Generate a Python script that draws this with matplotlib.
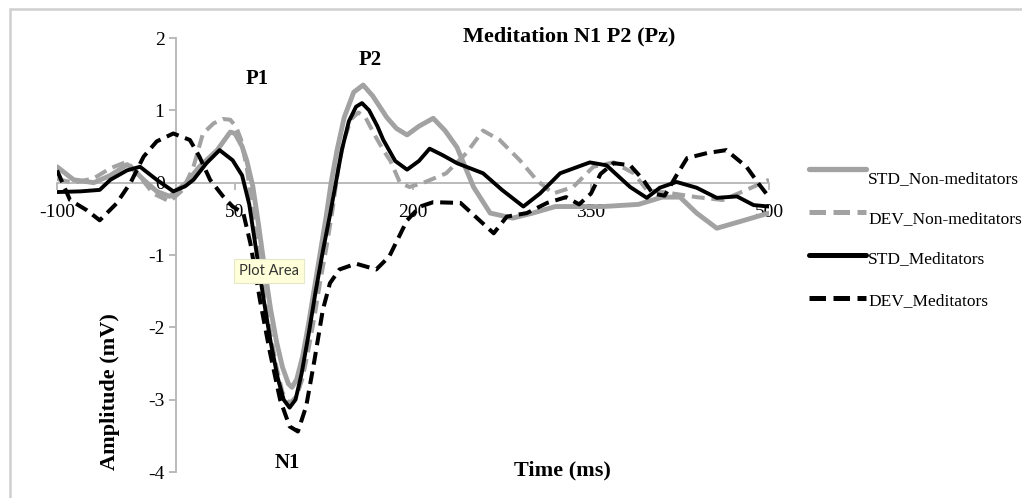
import matplotlib
matplotlib.use("Agg")
import matplotlib.pyplot as plt
from matplotlib.lines import Line2D
from matplotlib.patches import Rectangle

# ---------------- data ----------------
t_std_non = [-100, -86, -69, -55, -41, -38, -27, -16, -5, 9, 20, 35, 46, 50, 56, 60, 65, 70, 75, 80,
             85, 90, 95, 98, 102, 107, 112, 117, 122, 127, 131, 136, 142, 150, 158, 166, 178, 186, 195,
             205, 217, 227, 237, 251, 265, 284, 301, 320, 340, 360, 390, 410, 425, 439, 456, 475, 500]
v_std_non = [0.22, 0.04, 0.0, 0.1, 0.25, 0.22, 0.04, -0.12, -0.19, 0.0, 0.22, 0.45, 0.7, 0.68, 0.5, 0.3,
             -0.05, -0.6, -1.2, -1.75, -2.2, -2.55, -2.78, -2.83, -2.72, -2.4, -1.95, -1.45, -0.95, -0.45,
             0.0, 0.45, 0.9, 1.25, 1.35, 1.2, 0.9, 0.75, 0.66, 0.78, 0.89, 0.72, 0.49, -0.06, -0.42, -0.49,
             -0.42, -0.33, -0.33, -0.33, -0.3, -0.2, -0.2, -0.42, -0.63, -0.54, -0.42]

t_dev_non = [-100, -86, -69, -55, -41, -30, -19, -5, 6, 15, 23, 32, 40, 46, 51, 55, 60, 65, 70, 75, 80,
             85, 90, 96, 102, 107, 112, 117, 122, 127, 132, 137, 142, 148, 154, 160, 168, 175, 181, 189,
             197, 209, 228, 245, 259, 273, 290, 304, 318, 335, 352, 369, 386, 397, 419, 439, 461, 481, 500]
v_dev_non = [0.05, 0.0, 0.06, 0.2, 0.29, 0.08, -0.15, -0.26, -0.1, 0.22, 0.68, 0.82, 0.88, 0.87, 0.77,
             0.6, 0.2, -0.4, -1.0, -1.6, -2.1, -2.55, -2.9, -3.05, -2.95, -2.7, -2.3, -1.85, -1.35, -0.9,
             -0.4, 0.2, 0.6, 0.88, 0.97, 0.9, 0.65, 0.45, 0.3, 0.0, -0.06, 0.0, 0.13, 0.41, 0.72, 0.59,
             0.31, 0.04, -0.15, -0.06, 0.22, 0.28, 0.13, -0.1, -0.15, -0.2, -0.24, -0.1, 0.04]

t_std_med = [-100, -80, -64, -55, -41, -30, -16, -2, 8, 15, 26, 37, 48, 56, 62, 68, 74, 80, 86, 91, 96,
             101, 106, 112, 118, 124, 130, 135, 140, 146, 152, 157, 163, 170, 175, 185, 195, 205, 214,
             225, 237, 248, 259, 275, 293, 307, 324, 349, 363, 383, 397, 408, 422, 439, 456, 473, 487, 500]
v_std_med = [-0.13, -0.12, -0.1, 0.04, 0.17, 0.22, 0.04, -0.12, -0.05, 0.04, 0.27, 0.45, 0.31, 0.1,
             -0.3, -0.95, -1.6, -2.2, -2.7, -3.0, -3.11, -3.0, -2.65, -2.1, -1.5, -0.95, -0.45, 0.0, 0.45,
             0.85, 1.05, 1.1, 1.0, 0.78, 0.59, 0.3, 0.18, 0.3, 0.47, 0.38, 0.27, 0.2, 0.13, -0.1, -0.33,
             -0.15, 0.13, 0.28, 0.24, -0.06, -0.21, -0.07, 0.01, -0.07, -0.21, -0.19, -0.31, -0.33]

t_dev_med = [-100, -89, -75, -64, -50, -38, -27, -16, -2, 12, 20, 29, 40, 48, 57, 63, 71, 79, 88, 96,
             103, 110, 117, 124, 130, 138, 152, 169, 180, 195, 206, 217, 240, 256, 268, 279, 296, 313,
             329, 340, 350, 358, 369, 383, 394, 402, 412, 422, 431, 448, 464, 481, 492, 500]
v_dev_med = [0.17, -0.24, -0.38, -0.52, -0.29, 0.0, 0.36, 0.57, 0.68, 0.59, 0.36, 0.04, -0.19, -0.33,
             -0.42, -0.84, -1.62, -2.31, -3.0, -3.37, -3.44, -3.09, -2.45, -1.76, -1.39, -1.2, -1.12,
             -1.2, -1.02, -0.52, -0.33, -0.27, -0.28, -0.52, -0.7, -0.47, -0.42, -0.28, -0.2, -0.3,
             -0.15, 0.12, 0.27, 0.24, 0.04, -0.15, -0.18, 0.1, 0.34, 0.41, 0.45, 0.22, -0.03, -0.2]

series_labels = ["STD_Non-meditators", "DEV_Non-meditators", "STD_Meditators", "DEV_Meditators"]
x_ticks = [-100, 50, 200, 350, 500]
y_ticks = [-4, -3, -2, -1, 0, 1, 2]

# ---------------- figure ----------------
W, H = 1022, 498
fig = plt.figure(figsize=(W / 100, H / 100), dpi=100)
serif = ["Liberation Serif", "DejaVu Serif"]

# outer chart border
fig.patches.append(Rectangle((10 / W, -0.1), 1.2, (H - 9) / H + 0.1, transform=fig.transFigure,
                             fill=False, edgecolor="#CFCFCF", linewidth=1.8))

ax = fig.add_axes([57 / W, 26 / H, 712 / W, 434 / H])
ax.set_xlim(-100, 500)
ax.set_ylim(-4, 2)
ax.patch.set_visible(False)

GRAY = "#A2A2A2"
styles = [
    dict(color=GRAY, lw=3.5, linestyle="-", solid_joinstyle="round", solid_capstyle="round"),
    dict(color=GRAY, lw=2.9, linestyle=(0, (3.2, 1.7))),
    dict(color="black", lw=2.8, linestyle="-", solid_joinstyle="round", solid_capstyle="round"),
    dict(color="black", lw=2.9, linestyle=(0, (3.2, 1.7))),
]
ax.plot(t_std_non, v_std_non, zorder=3, **styles[0])
ax.plot(t_dev_non, v_dev_non, zorder=3, **styles[1])
ax.plot(t_std_med, v_std_med, zorder=4, **styles[2])
ax.plot(t_dev_med, v_dev_med, zorder=4, **styles[3])

for s in ["top", "right"]:
    ax.spines[s].set_visible(False)
ax.spines["left"].set_position(("data", 0))
ax.spines["bottom"].set_position(("data", 0))
for s in ["left", "bottom"]:
    ax.spines[s].set_color("#B5B5B5")
    ax.spines[s].set_linewidth(1.3)
    ax.spines[s].set_zorder(1)

ax.set_xticks(x_ticks)
ax.set_yticks(y_ticks)
ax.set_xticklabels([str(v) for v in x_ticks], family=serif, fontsize=14)
ax.set_yticklabels([str(v) for v in y_ticks], family=serif, fontsize=14)
ax.tick_params(axis="both", direction="out", color="#B5B5B5", width=1.3, length=5)
ax.tick_params(axis="x", pad=10)
ax.tick_params(axis="y", pad=3)

# title and labels
fig.text(569 / W, 1 - 36 / H, "Meditation N1 P2 (Pz)", ha="center", va="center",
         family=serif, fontsize=16, fontweight="bold")
fig.text(562 / W, 1 - 470 / H, "Time (ms)", ha="center", va="center",
         family=serif, fontsize=16, fontweight="bold")
fig.text(110 / W, 1 - 392 / H, "Amplitude (mV)", ha="center", va="center", rotation=90,
         family=serif, fontsize=16, fontweight="bold")

# peak labels
ax.text(69, 1.44, "P1", ha="center", va="center", family=serif, fontsize=15, fontweight="bold")
ax.text(164, 1.70, "P2", ha="center", va="center", family=serif, fontsize=15, fontweight="bold")
ax.text(94, -3.87, "N1", ha="center", va="center", family=serif, fontsize=15, fontweight="bold")

# tooltip
fig.text(269 / W, 1 - 271 / H, "Plot Area", ha="center", va="center", fontsize=10.5,
         family=["Lato", "DejaVu Sans"], color="#333333", zorder=10,
         bbox=dict(boxstyle="square,pad=0.35", facecolor="#FFFFD9", edgecolor="#E6E6C8", linewidth=0.8))

# legend (drawn by hand to match the offset of text below each key line)
leg_line_y = [169, 212, 255, 298]
leg_text_y = [179, 219, 259, 301]
leg_styles = [
    dict(color=GRAY, lw=3.8, linestyle="-", solid_capstyle="round"),
    dict(color=GRAY, lw=3.6, linestyle=(0, (3.3, 1.5))),
    dict(color="black", lw=3.6, linestyle="-", solid_capstyle="round"),
    dict(color="black", lw=3.6, linestyle=(0, (3.3, 1.5))),
]
for ly, ty, st, lab in zip(leg_line_y, leg_text_y, leg_styles, series_labels):
    fig.add_artist(Line2D([809 / W, 866 / W], [1 - ly / H, 1 - ly / H], transform=fig.transFigure, **st))
    fig.text(868 / W, 1 - ty / H, lab, ha="left", va="center", family=serif, fontsize=12.5)

fig.savefig("out.png", dpi=100)
